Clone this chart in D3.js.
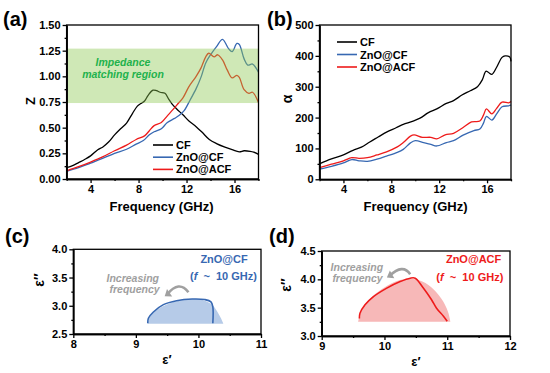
<!DOCTYPE html>
<html>
<head>
<meta charset="utf-8">
<script src="https://d3js.org/d3.v7.min.js"></script>
<style>
body { margin: 0; background: #fff; }
svg { font-family: Arial, "Liberation Sans", Helvetica, sans-serif; font-weight: bold; }
.axis path, .axis line { stroke: #000; stroke-width: 1.3; }
.axis text { font-size: 11px; font-weight: bold; fill: #000; }
</style>
</head>
<body>
<svg id="fig" width="550" height="373"></svg>
<script>
// ---- data ----
// (a) impedance matching Z vs frequency (GHz)
var zCF = [[2.0,0.11],[2.5,0.13],[3.0,0.16],[3.5,0.19],[4.0,0.225],[4.6,0.285],[5.0,0.31],[5.5,0.36],[6.0,0.43],[6.5,0.49],[7.0,0.545],[7.5,0.64],[7.9,0.71],[8.2,0.735],[8.5,0.76],[8.8,0.815],[9.2,0.865],[9.5,0.86],[9.8,0.845],[10.2,0.835],[10.5,0.78],[10.8,0.73],[11.2,0.68],[11.7,0.625],[12.2,0.565],[12.8,0.51],[13.3,0.455],[13.9,0.385],[14.5,0.345],[15.2,0.31],[15.8,0.285],[16.4,0.265],[16.8,0.275],[17.3,0.27],[17.6,0.262],[18.0,0.24]];
var zZnOCF = [[2.0,0.075],[3.0,0.11],[4.0,0.155],[5.0,0.2],[6.0,0.25],[7.0,0.29],[7.8,0.34],[8.4,0.375],[8.9,0.43],[9.3,0.46],[9.9,0.49],[10.4,0.55],[11.0,0.59],[11.4,0.62],[11.8,0.665],[12.3,0.77],[12.8,0.88],[13.2,0.99],[13.6,1.13],[14.0,1.21],[14.5,1.29],[15.0,1.36],[15.5,1.27],[15.8,1.24],[16.2,1.32],[16.4,1.31],[16.8,1.17],[17.1,1.11],[17.5,1.12],[17.8,1.08],[18.0,1.04]];
var zZnOACF = [[2.0,0.08],[3.0,0.12],[4.0,0.165],[5.0,0.215],[6.0,0.275],[7.0,0.33],[7.8,0.385],[8.5,0.42],[8.9,0.47],[9.3,0.52],[9.9,0.55],[10.4,0.615],[10.9,0.68],[11.3,0.735],[11.7,0.79],[12.2,0.9],[12.8,1.0],[13.2,1.08],[13.6,1.19],[13.85,1.225],[14.3,1.19],[14.6,1.21],[15.0,1.16],[15.4,1.06],[15.8,0.985],[16.2,1.01],[16.4,0.99],[16.8,0.87],[17.2,0.835],[17.5,0.845],[18.0,0.745]];
var matchBand = [0.74, 1.27];

// (b) attenuation constant alpha vs frequency
var aCF = [[2.0,50],[3.0,66],[4.0,79],[4.8,94],[5.5,104],[6.2,121],[6.9,137],[7.6,153],[8.4,167],[9.0,178],[9.7,187],[10.4,198],[11.1,216],[11.8,228],[12.6,246],[13.2,255],[13.9,273],[14.6,287],[15.2,300],[15.6,322],[15.9,350],[16.1,347],[16.4,340],[16.8,363],[17.25,395],[17.5,400],[17.9,396],[18.0,382]];
var aZnOCF = [[2.0,33],[3.0,42],[4.0,53],[4.7,64],[5.3,60],[6.0,58],[6.8,65],[7.6,75],[8.5,87],[9.0,97],[9.6,118],[10.0,125],[10.7,119],[11.3,113],[11.8,108],[12.6,119],[13.2,125],[14.0,143],[14.9,158],[15.4,163],[15.7,182],[15.95,204],[16.4,192],[16.8,212],[17.25,235],[17.8,238],[18.0,240]];
var aZnOACF = [[2.0,38],[3.0,49],[4.0,60],[4.7,70],[5.3,68],[6.0,70],[6.8,79],[7.6,89],[8.5,105],[9.0,119],[9.6,140],[9.9,144],[10.6,136],[11.3,136],[11.8,131],[12.5,144],[13.2,149],[14.0,168],[14.7,186],[15.4,189],[15.7,208],[15.95,228],[16.4,212],[16.8,230],[17.25,250],[17.8,248],[18.0,252]];

// (c) Cole-Cole, ZnO@CF
var ccCFLine = [[9.19,2.69],[9.2,2.78],[9.28,2.89],[9.44,3.02],[9.65,3.09],[9.9,3.12],[10.1,3.11],[10.2,3.07],[10.23,2.98],[10.23,2.69]];
var ccCFFill = [[9.19,2.68],[9.22,2.8],[9.3,2.9],[9.45,3.0],[9.62,3.07],[9.8,3.11],[9.95,3.12],[10.1,3.09],[10.22,3.02],[10.3,2.9],[10.36,2.78],[10.4,2.68]];
// (d) Cole-Cole, ZnO@ACF
var ccACFLine = [[9.6,3.31],[9.61,3.4],[9.69,3.55],[9.82,3.69],[10.03,3.84],[10.25,3.96],[10.41,4.02],[10.49,4.02],[10.61,3.86],[10.75,3.64],[10.83,3.49],[10.94,3.35],[11.0,3.26]];
var ccACFFill = [[9.58,3.25],[9.62,3.4],[9.72,3.6],[9.9,3.78],[10.1,3.92],[10.3,4.0],[10.5,4.0],[10.7,3.9],[10.85,3.74],[10.96,3.56],[11.02,3.4],[11.05,3.25]];

var seriesNames = ['CF', 'ZnO@CF', 'ZnO@ACF'];
var freqTicks = [4, 8, 12, 16];

var black = '#000000', blue = '#3768b2', red = '#ee1b1b', gray = '#a0a0a0';
var svg = d3.select('#fig');

function frame(g, x, y, xt, yt, xminor, yminor, yfmt) {
	var w = x.range()[1] - x.range()[0], h = y.range()[0] - y.range()[1];
	g.append('g').attr('class', 'axis').attr('transform', 'translate(0,' + y.range()[0] + ')')
		.call(d3.axisBottom(x).tickValues(xminor).tickSize(2).tickSizeOuter(0).tickFormat(''));
	g.append('g').attr('class', 'axis').attr('transform', 'translate(' + x.range()[0] + ',0)')
		.call(d3.axisLeft(y).tickValues(yminor).tickSize(2).tickSizeOuter(0).tickFormat(''));
	g.append('g').attr('class', 'axis').attr('transform', 'translate(0,' + y.range()[0] + ')')
		.call(d3.axisBottom(x).tickValues(xt).tickSize(4).tickSizeOuter(0).tickPadding(2).tickFormat(d3.format('d')));
	g.append('g').attr('class', 'axis').attr('transform', 'translate(' + x.range()[0] + ',0)')
		.call(d3.axisLeft(y).tickValues(yt).tickSize(4).tickSizeOuter(0).tickPadding(2).tickFormat(yfmt));
	g.append('rect').attr('x', x.range()[0]).attr('y', y.range()[1]).attr('width', w).attr('height', h)
		.attr('fill', 'none').attr('stroke', '#000').attr('stroke-width', 1.3);
}

function lineOf(x, y) {
	return d3.line().x(function(d) { return x(d[0]); }).y(function(d) { return y(d[1]); }).curve(d3.curveCatmullRom.alpha(0.5));
}

function legend(g, x0, y0, dy) {
	var cols = [black, blue, red];
	seriesNames.forEach(function(n, i) {
		g.append('line').attr('x1', x0).attr('x2', x0 + 20).attr('y1', y0 + i * dy).attr('y2', y0 + i * dy)
			.attr('stroke', cols[i]).attr('stroke-width', 1.6);
		g.append('text').attr('x', x0 + 23).attr('y', y0 + i * dy + 4).attr('font-size', 11).text(n);
	});
}

function panelLabel(t, px, py) {
	svg.append('text').attr('x', px).attr('y', py).attr('font-size', 20).text(t);
}

function rotLabel(t, px, py, fs) {
	svg.append('text').attr('transform', 'translate(' + px + ',' + py + ') rotate(-90)')
		.attr('text-anchor', 'middle').attr('font-size', fs).text(t);
}

// ---------------- (a) ----------------
var xA = d3.scaleLinear().domain([2, 18]).range([66.6, 258.5]);
var yA = d3.scaleLinear().domain([0, 1.5]).range([179, 25]);
var gA = svg.append('g');
var lA = lineOf(xA, yA);
gA.append('path').datum(zCF).attr('d', lA).attr('fill', 'none').attr('stroke', black).attr('stroke-width', 1.3);
gA.append('path').datum(zZnOCF).attr('d', lA).attr('fill', 'none').attr('stroke', blue).attr('stroke-width', 1.3);
gA.append('path').datum(zZnOACF).attr('d', lA).attr('fill', 'none').attr('stroke', red).attr('stroke-width', 1.3);
gA.append('rect').attr('x', xA(2)).attr('width', xA(18) - xA(2)).attr('y', yA(matchBand[1])).attr('height', yA(matchBand[0]) - yA(matchBand[1]))
	.attr('fill', '#8cc850').attr('opacity', 0.42);
gA.append('text').attr('x', xA(6.7)).attr('y', yA(1.136) + 4).attr('text-anchor', 'middle').attr('font-size', 10.5)
	.attr('font-style', 'italic').attr('fill', '#22b24c').text('Impedance');
gA.append('text').attr('x', xA(6.7)).attr('y', yA(1.02) + 4).attr('text-anchor', 'middle').attr('font-size', 10.5)
	.attr('font-style', 'italic').attr('fill', '#22b24c').text('matching region');
frame(gA, xA, yA, freqTicks, d3.range(0, 1.51, 0.25), [2, 6, 10, 14, 18], d3.range(0.125, 1.5, 0.25), d3.format('.2f'));
legend(gA, 153, 145, 12.2);
panelLabel('(a)', 3, 26);
rotLabel('Z', 35, 101, 13);
svg.append('text').attr('x', 161.5).attr('y', 211).attr('text-anchor', 'middle').attr('font-size', 13).text('Frequency (GHz)');

// ---------------- (b) ----------------
var xB = d3.scaleLinear().domain([2, 18]).range([319.5, 511]);
var yB = d3.scaleLinear().domain([0, 500]).range([179.3, 25]);
var gB = svg.append('g');
var lB = lineOf(xB, yB);
gB.append('path').datum(aCF).attr('d', lB).attr('fill', 'none').attr('stroke', black).attr('stroke-width', 1.3);
gB.append('path').datum(aZnOCF).attr('d', lB).attr('fill', 'none').attr('stroke', blue).attr('stroke-width', 1.3);
gB.append('path').datum(aZnOACF).attr('d', lB).attr('fill', 'none').attr('stroke', red).attr('stroke-width', 1.3);
frame(gB, xB, yB, freqTicks, d3.range(0, 501, 100), [2, 6, 10, 14, 18], d3.range(50, 500, 100), d3.format('d'));
legend(gB, 337, 42, 12.5);
panelLabel('(b)', 267, 26);
rotLabel('\u03b1', 292, 99, 14);
svg.append('text').attr('x', 415.5).attr('y', 211).attr('text-anchor', 'middle').attr('font-size', 13).text('Frequency (GHz)');

// ---------------- (c) / (d) ----------------
function coleCole(xd, xr, yd, yr, fillPts, linePts, col, fillCol, name, arrow, txt) {
	var x = d3.scaleLinear().domain(xd).range(xr);
	var y = d3.scaleLinear().domain(yd).range(yr);
	var g = svg.append('g');
	var area = d3.area().x(function(d) { return x(d[0]); }).y1(function(d) { return y(d[1]); }).y0(y(fillPts[0][1]))
		.curve(d3.curveCatmullRom.alpha(0.5));
	g.append('path').datum(fillPts).attr('d', area).attr('fill', fillCol);
	g.append('path').datum(linePts).attr('d', lineOf(x, y)).attr('fill', 'none').attr('stroke', col).attr('stroke-width', 1.6);
	var xt = d3.range(xd[0], xd[1] + 0.01, 1);
	var yt = d3.range(yd[0], yd[1] + 0.01, 0.5);
	frame(g, x, y, xt, yt, d3.range(xd[0] + 0.5, xd[1], 1), d3.range(yd[0] + 0.25, yd[1], 0.5), d3.format('.1f'));
	// annotation texts
	g.append('text').attr('x', x(txt.name[0])).attr('y', y(txt.name[1]) + 4).attr('text-anchor', 'middle')
		.attr('font-size', 11).attr('fill', col).text(name);
	var t2 = g.append('text').attr('x', x(txt.freq[0])).attr('y', y(txt.freq[1]) + 4).attr('text-anchor', 'middle')
		.attr('font-size', 11).attr('fill', col);
	t2.append('tspan').text('(');
	t2.append('tspan').attr('font-style', 'italic').text('f');
	t2.append('tspan').text(' \u00a0~\u00a0 10 GHz)');
	g.append('text').attr('x', x(txt.inc[0])).attr('y', y(txt.inc[1]) + 4).attr('text-anchor', 'middle')
		.attr('font-size', 10.5).attr('font-style', 'italic').attr('fill', gray).text('Increasing');
	g.append('text').attr('x', x(txt.fr[0])).attr('y', y(txt.fr[1]) + 4).attr('text-anchor', 'middle')
		.attr('font-size', 10.5).attr('font-style', 'italic').attr('fill', gray).text('frequency');
	// curved arrow
	var p0 = [x(arrow[0][0]), y(arrow[0][1])], p1 = [x(arrow[1][0]), y(arrow[1][1])], p2 = [x(arrow[2][0]), y(arrow[2][1])];
	g.append('path').attr('d', 'M' + p0 + 'Q' + [2 * p1[0] - (p0[0] + p2[0]) / 2, 2 * p1[1] - (p0[1] + p2[1]) / 2] + ' ' + p2)
		.attr('fill', 'none').attr('stroke', gray).attr('stroke-width', 2.6);
	var ang = Math.atan2(p2[1] - p1[1], p2[0] - p1[0]);
	var hl = 6, hw = 4.5;
	var tip = [p2[0] + Math.cos(ang) * 3, p2[1] + Math.sin(ang) * 3];
	var b1 = [tip[0] - Math.cos(ang) * hl - Math.sin(ang) * hw, tip[1] - Math.sin(ang) * hl + Math.cos(ang) * hw];
	var b2 = [tip[0] - Math.cos(ang) * hl + Math.sin(ang) * hw, tip[1] - Math.sin(ang) * hl - Math.cos(ang) * hw];
	g.append('path').attr('d', 'M' + tip + 'L' + b1 + 'L' + b2 + 'Z').attr('fill', gray);
}

coleCole([8, 11], [73.3, 261], [2.5, 4.0], [334, 249.3], ccCFFill, ccCFLine, blue, '#b6cbe8', 'ZnO@CF',
	[[9.84, 3.24], [9.68, 3.34], [9.5, 3.2]],
	{ name: [10.41, 3.83], freq: [10.4, 3.52], inc: [8.95, 3.5], fr: [8.98, 3.29] });
panelLabel('(c)', 5, 243);
rotLabel('\u03b5\u2033', 44, 280, 14);
svg.append('text').attr('x', 167).attr('y', 364).attr('text-anchor', 'middle').attr('font-size', 13).text('\u03b5\u2032');

coleCole([9, 12], [321.7, 510], [3.0, 4.5], [336, 251], ccACFFill, ccACFLine, red, '#f7b8b8', 'ZnO@ACF',
	[[10.41, 4.09], [10.27, 4.18], [10.08, 4.06]],
	{ name: [11.42, 4.36], freq: [11.36, 4.05], inc: [9.56, 4.22], fr: [9.57, 4.02] });
panelLabel('(d)', 269, 243);
rotLabel('\u03b5\u2033', 291, 285, 14);
svg.append('text').attr('x', 416).attr('y', 366).attr('text-anchor', 'middle').attr('font-size', 13).text('\u03b5\u2032');
</script>
</body>
</html>
